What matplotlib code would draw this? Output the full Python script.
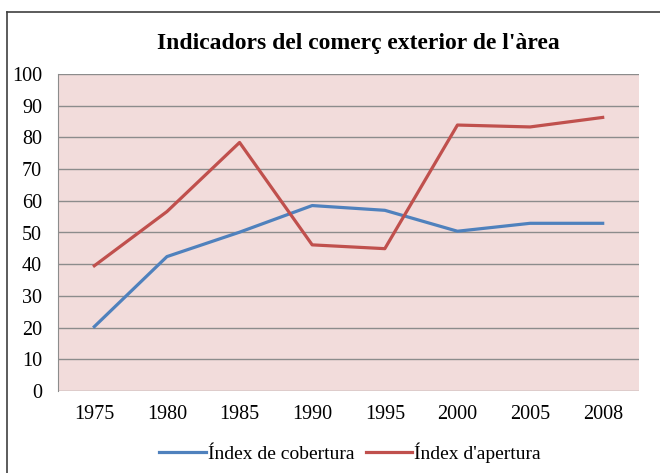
import matplotlib.pyplot as plt
from matplotlib.lines import Line2D

# Data
years = ["1975", "1980", "1985", "1990", "1995", "2000", "2005", "2008"]
cobertura = [20.3, 42.4, 50.1, 58.5, 57.0, 50.4, 52.9, 52.9]
apertura = [39.5, 56.6, 78.4, 46.1, 44.9, 83.9, 83.3, 86.3]
yticks = [0, 10, 20, 30, 40, 50, 60, 70, 80, 90, 100]

plt.rcParams['font.family'] = ['Liberation Serif', 'DejaVu Serif']

fig = plt.figure(figsize=(6.6, 4.73), dpi=100)
ax = fig.add_axes([58/660, 1-391/473, 581/660, (391-74)/473])

x = [i + 0.5 for i in range(len(years))]
ax.plot(x, cobertura, color='#4F81BD', lw=2.3, label="Índex de cobertura")
ax.plot(x, apertura, color='#C0504D', lw=2.3, label="Índex d'apertura")

ax.set_facecolor('#F2DCDB')
ax.set_xlim(0, len(years))
ax.set_ylim(0, 100)
ax.set_yticks(yticks)
ax.set_xticks(x)
ax.set_xticklabels(years)
ax.tick_params(length=0, labelsize=14.5, colors='black')
ax.tick_params(axis='x', pad=10)
ax.tick_params(axis='y', pad=11.5)
ax.grid(axis='y', color='#8C8C8C', lw=1)
ax.set_axisbelow(True)
for s in ['top', 'right', 'bottom']:
    ax.spines[s].set_visible(False)
ax.spines['left'].set_color('#8C8C8C')

fig.text(358/660, 1-44/473, "Indicadors del comerç exterior de l'àrea",
         ha='center', va='center', fontsize=17, fontweight='bold')

ax.legend(loc='center', bbox_to_anchor=(350/660, 1-453/473), bbox_transform=fig.transFigure,
          ncol=2, frameon=False, fontsize=14, handlelength=2.4, handletextpad=0.1,
          columnspacing=0.6)

# outer border (top and left only visible)
fig.add_artist(Line2D([7/660, 1], [1-12/473, 1-12/473], transform=fig.transFigure, color='#404040', lw=1.2))
fig.add_artist(Line2D([7/660, 7/660], [0, 1-12/473], transform=fig.transFigure, color='#404040', lw=1.2))

fig.savefig("out.png", dpi=100)
